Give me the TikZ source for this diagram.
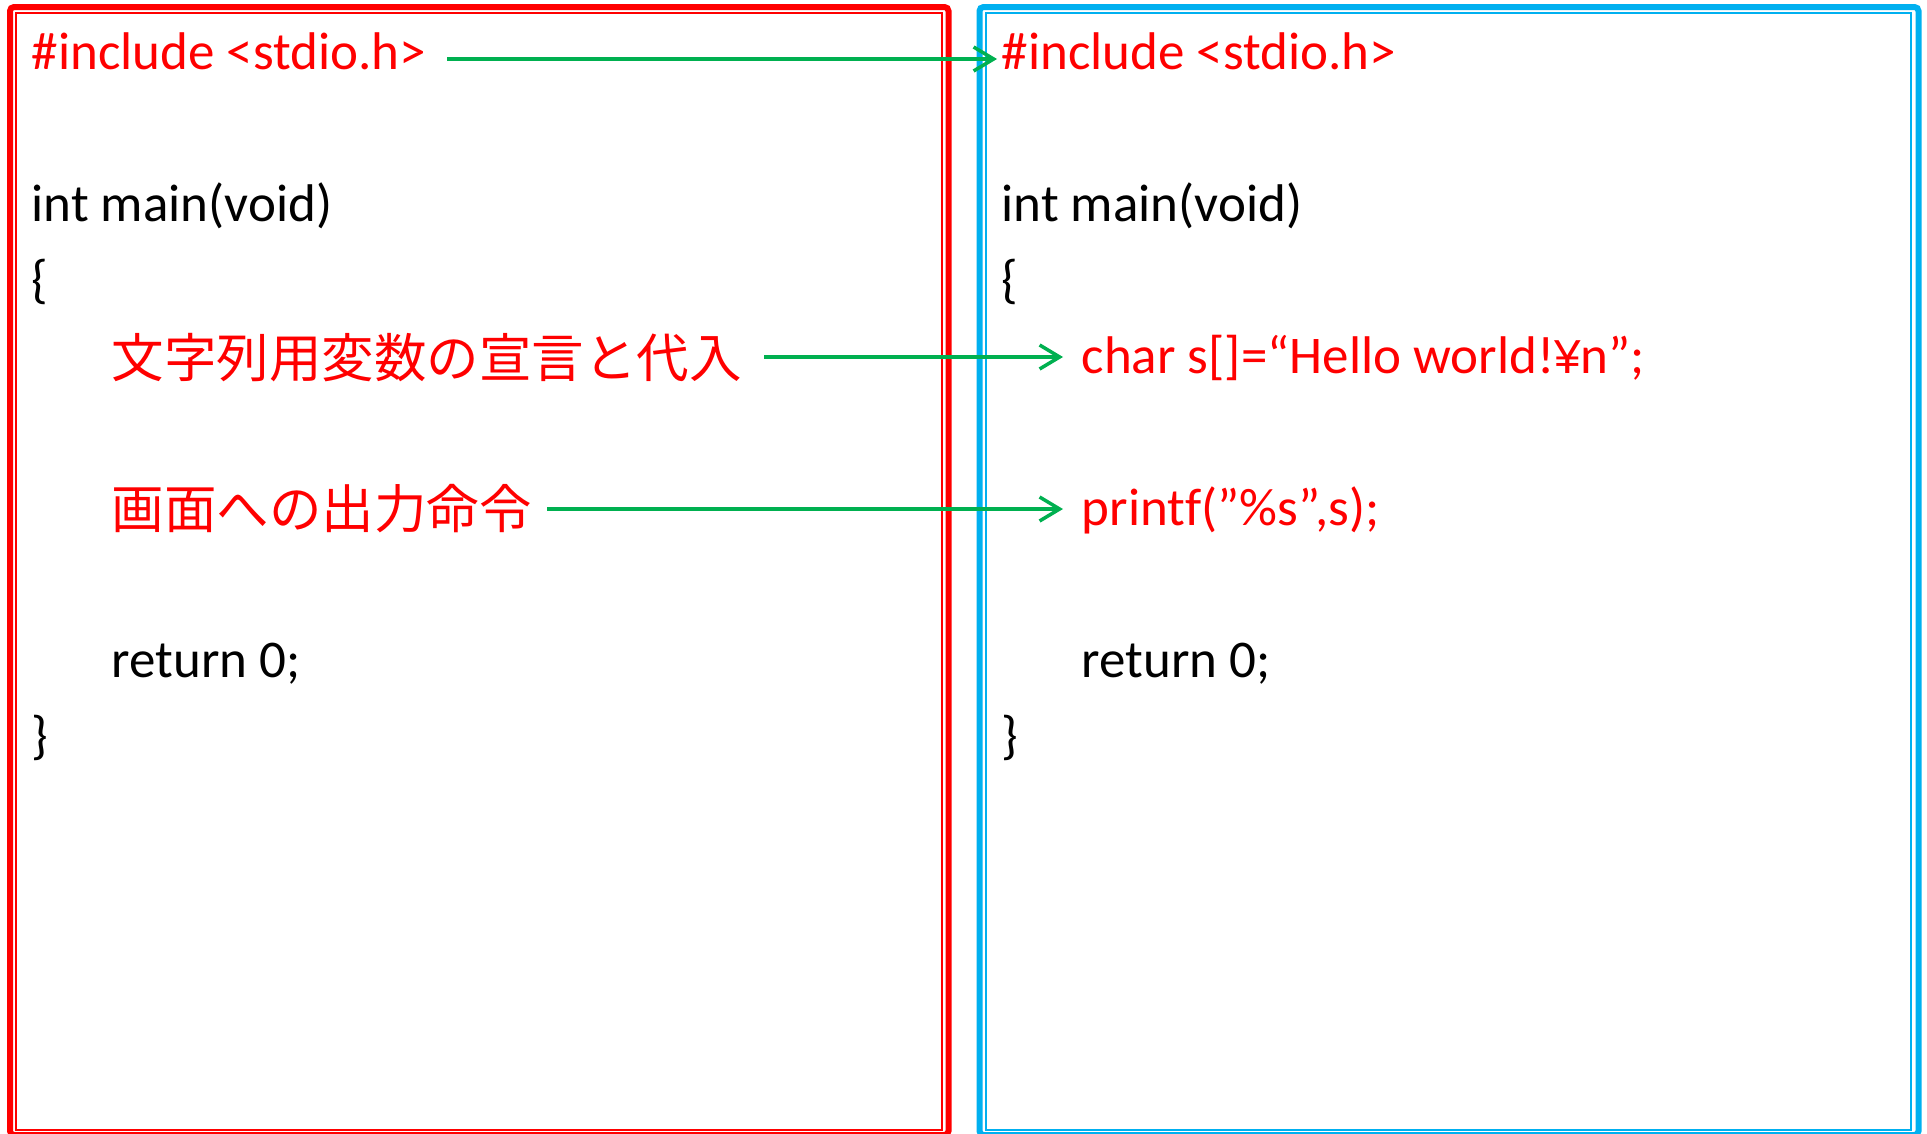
\documentclass[tikz,border=0pt]{standalone}
\usepackage{fontspec}
\setmainfont{Carlito}[Ligatures=CommonOff]
\newfontfamily\jpfont{Noto Sans CJK JP}
\newfontfamily\yenfont{Liberation Sans}[Scale=0.9]
\usetikzlibrary{arrows.meta}
\definecolor{pptred}{RGB}{255,0,0}
\definecolor{pptblue}{RGB}{0,176,240}
\definecolor{pptgreen}{RGB}{0,176,80}
\begin{document}
\begin{tikzpicture}[x=1pt,y=-1pt,
  code/.style={anchor=base west,inner sep=0pt,font=\fontsize{53}{64}\selectfont},
  redcode/.style={code,text=pptred},
  jp/.style={anchor=base west,inner sep=0pt,font=\fontsize{52.5}{64}\selectfont\jpfont,text=pptred},
  link/.style={draw=pptgreen,line width=3.5pt,-{Straight Barb[length=20pt,width=24pt]}},
  outerframe/.style={line width=6pt,rounded corners=4pt},
  innerframe/.style={line width=2pt}]
\useasboundingbox (0,0) rectangle (1927,1133);
\fill[white] (0,0) rectangle (1927,1133);
% frames
\draw[outerframe,draw=pptred] (10,7) rectangle (948.5,1135);
\draw[innerframe,draw=pptred] (16,13) rectangle (942,1129.5);
\draw[outerframe,draw=pptblue] (979.5,7) rectangle (1918.5,1135);
\draw[innerframe,draw=pptblue] (985.5,13) rectangle (1911,1129.5);
% left column
\node[redcode] (Linc) at (31.5,69) {\#include <stdio.h>};
\node[code] (Lmain) at (31.5,221) {int main(void)};
\node[code] (Lopen) at (31.5,297) {\{};
\node[jp] (Ldecl) at (111.5,377) {文字列用変数の宣言と代入};
\node[jp] (Lout) at (111.5,528) {画面への出力命令};
\node[code] (Lret) at (111.5,677) {return 0;};
\node[code] (Lclose) at (31.5,753) {\}};
% right column
\node[redcode] (Rinc) at (1001.5,69) {\#include <stdio.h>};
\node[code] (Rmain) at (1001.5,221) {int main(void)};
\node[code] (Ropen) at (1001.5,297) {\{};
\node[redcode] (Rdecl) at (1081.5,373) {char s[]=“Hello world!{\yenfont ¥}n”;};
\node[redcode] (Rout) at (1081.5,525) {printf(”\%s”,s);};
\node[code] (Rret) at (1081.5,677) {return 0;};
\node[code] (Rclose) at (1001.5,753) {\}};
% arrows
\coordinate (A1s) at (447,59);
\coordinate (A1e) at (997,59);
\coordinate (A2s) at (764,357);
\coordinate (A2e) at (1063,357);
\coordinate (A3s) at (547,509);
\coordinate (A3e) at (1063,509);
\draw[link] (A1s) -- (A1e);
\draw[link] (A2s) -- (A2e);
\draw[link] (A3s) -- (A3e);
\end{tikzpicture}
\end{document}
